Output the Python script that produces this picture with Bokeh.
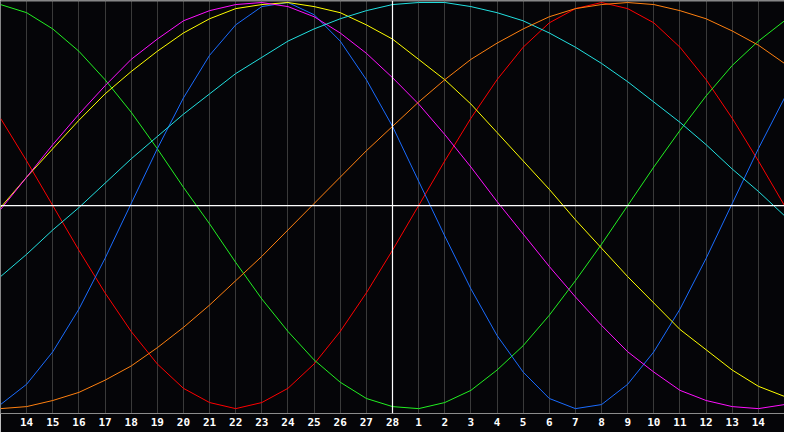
from bokeh.plotting import figure
from bokeh.models import Range1d, FixedTicker, Span, ColumnDataSource
from bokeh.embed import file_html
from bokeh.resources import INLINE

# day of month for each day slot shown (slot 0 .. 30)
days = [13, 14, 15, 16, 17, 18, 19, 20, 21, 22, 23, 24, 25, 26, 27, 28,
        1, 2, 3, 4, 5, 6, 7, 8, 9, 10, 11, 12, 13, 14, 15]
today_slot = 15
slots = list(range(len(days)))

red = [0.43, 0.22, 0.00, -0.22, -0.43, -0.62, -0.78, -0.90, -0.97, -1.00, -0.97,
       -0.90, -0.78, -0.62, -0.43, -0.22, 0.00, 0.22, 0.43, 0.62, 0.78, 0.90,
       0.97, 1.00, 0.97, 0.90, 0.78, 0.62, 0.43, 0.22, 0.00]
green = [0.99, 0.95, 0.87, 0.76, 0.62, 0.46, 0.28, 0.09, -0.09, -0.28, -0.46,
         -0.62, -0.76, -0.87, -0.95, -0.99, -1.00, -0.97, -0.91, -0.81, -0.69,
         -0.54, -0.37, -0.19, 0.00, 0.19, 0.37, 0.54, 0.69, 0.81, 0.91]
blue = [-0.98, -0.88, -0.72, -0.51, -0.26, 0.01, 0.28, 0.53, 0.74, 0.89, 0.98,
        1.00, 0.94, 0.81, 0.62, 0.39, 0.12, -0.15, -0.41, -0.64, -0.82, -0.95,
        -1.00, -0.98, -0.88, -0.72, -0.51, -0.26, 0.01, 0.28, 0.53]
magenta = [-0.02, 0.14, 0.30, 0.45, 0.59, 0.72, 0.82, 0.91, 0.96, 0.99, 1.00,
           0.98, 0.93, 0.85, 0.75, 0.63, 0.50, 0.35, 0.19, 0.02, -0.14, -0.30,
           -0.45, -0.59, -0.72, -0.82, -0.91, -0.96, -0.99, -1.00, -0.98]
yellow = [-0.01, 0.14, 0.28, 0.42, 0.55, 0.66, 0.76, 0.85, 0.92, 0.97, 0.99,
          1.00, 0.98, 0.95, 0.89, 0.82, 0.72, 0.62, 0.50, 0.36, 0.22, 0.08,
          -0.07, -0.21, -0.35, -0.48, -0.61, -0.71, -0.81, -0.89, -0.94]
cyan = [-0.35, -0.24, -0.12, -0.01, 0.11, 0.23, 0.34, 0.45, 0.55, 0.65, 0.73,
        0.81, 0.87, 0.92, 0.96, 0.99, 1.00, 1.00, 0.98, 0.95, 0.91, 0.85,
        0.78, 0.70, 0.61, 0.51, 0.41, 0.30, 0.18, 0.07, -0.05]
orange = [-1.00, -0.99, -0.96, -0.92, -0.86, -0.79, -0.70, -0.60, -0.49, -0.37,
          -0.25, -0.12, 0.01, 0.14, 0.27, 0.39, 0.51, 0.62, 0.72, 0.80, 0.87,
          0.93, 0.97, 0.99, 1.00, 0.99, 0.96, 0.92, 0.86, 0.79, 0.70]

series = [
    (red, "#ff0000"),
    (green, "#22f022"),
    (blue, "#1a6cff"),
    (yellow, "#ffff00"),
    (magenta, "#ff10ff"),
    (cyan, "#22e0e0"),
    (orange, "#ff8010"),
]

BG = "#050508"
W, H = 784, 432

p = figure(width=W, height=H, output_backend="svg", toolbar_location=None,
           x_range=Range1d(0, len(days) - 1), y_range=Range1d(-1.024, 1.01),
           min_border_left=0, min_border_right=0, min_border_top=0,
           min_border_bottom=19)
p.background_fill_color = BG
p.border_fill_color = BG
p.outline_line_color = None

tick_slots = slots[1:-1]
p.xaxis.ticker = FixedTicker(ticks=tick_slots)
p.xaxis.major_label_overrides = {s: str(days[s]) for s in tick_slots}
p.xaxis.major_tick_out = 0
p.xaxis.major_tick_in = 0
p.xaxis.minor_tick_out = 0
p.xaxis.minor_tick_in = 0
p.xaxis.axis_line_color = "#8c8c8c"
p.xaxis.major_label_standoff = 4
p.xaxis.major_label_text_color = "#ffffff"
p.xaxis.major_label_text_font = "DejaVu Sans Mono"
p.xaxis.major_label_text_font_style = "bold"
p.xaxis.major_label_text_font_size = "11px"
p.yaxis.visible = False

p.xgrid.ticker = FixedTicker(ticks=tick_slots)
p.xgrid.grid_line_color = "#3a3a3a"
p.xgrid.grid_line_width = 1
p.ygrid.grid_line_color = None

p.add_layout(Span(location=0, dimension="height", line_color="#8c8c8c", line_width=1))
p.add_layout(Span(location=1.01, dimension="width", line_color="#8c8c8c", line_width=2))

src = ColumnDataSource(dict(x=slots, red=red, green=green, blue=blue,
                            yellow=yellow, magenta=magenta, cyan=cyan, orange=orange))

p.add_layout(Span(location=0, dimension="width", line_color="#ffffff", line_width=1.2))
p.add_layout(Span(location=today_slot, dimension="height", line_color="#ffffff", line_width=1.2))

names = ["red", "green", "blue", "yellow", "magenta", "cyan", "orange"]
for name, (vals, col) in zip(names, series):
    p.line("x", name, source=src, line_color=col, line_width=1)

open("out.html", "w").write(file_html(p, INLINE))
